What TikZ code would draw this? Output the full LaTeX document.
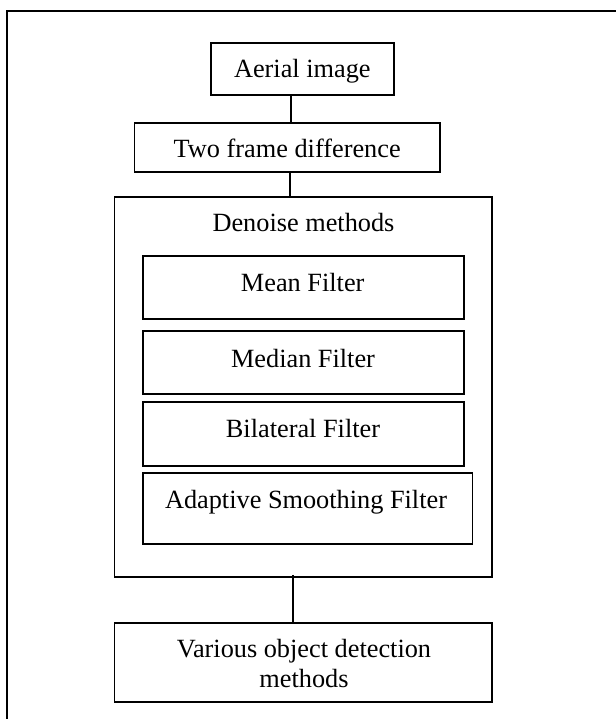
\documentclass[tikz,border=0pt]{standalone}
\usepackage{fontspec}
\setmainfont{Liberation Serif}
\begin{document}
\begin{tikzpicture}[x=1pt,y=1pt,
  box/.style={draw=black, line width=1.9pt, rectangle, inner sep=0pt},
  lbl/.style={inner sep=0pt, text height=17.3pt, text depth=0pt, font=\fontsize{26.3}{30}\selectfont},
  conn/.style={draw=black, line width=1.9pt}]
\useasboundingbox (0,0) rectangle (615,719);
% outer frame
\draw[line width=2pt] (7.3,-5) -- (7.3,708.3) -- (625,708.3);
% boxes
\node[box, minimum width=183pt, minimum height=52pt] (aerial) at (302.5,650) {};
\node[box, minimum width=305.5pt, minimum height=49pt] (two) at (287.25,571.5) {};
\node[box, minimum width=377.5pt, minimum height=380pt] (denoise) at (303.25,332) {};
\node[box, minimum width=321.3pt, minimum height=63pt] (mean) at (303.35,431.5) {};
\node[box, minimum width=321.3pt, minimum height=63pt] (median) at (303.35,356.5) {};
\node[box, minimum width=321.3pt, minimum height=64pt] (bilateral) at (303.35,285) {};
\node[box, minimum width=329.8pt, minimum height=71pt] (adaptive) at (307.6,210.5) {};
\node[box, minimum width=377.5pt, minimum height=79pt] (various) at (303.25,56.5) {};
% labels
\node[lbl] (taerial) at (302.3,650) {Aerial image};
\node[lbl] (ttwo) at (287.2,570) {Two frame difference};
\node[lbl] (tdenoise) at (303.5,496.4) {Denoise methods};
\node[lbl] (tmean) at (302.7,436) {Mean Filter};
\node[lbl] (tmedian) at (303,360.5) {Median Filter};
\node[lbl] (tbilateral) at (303,290) {Bilateral Filter};
\node[lbl] (tadaptive) at (306,219) {Adaptive Smoothing Filter};
\node[inner sep=0pt, align=center, font=\fontsize{26.3}{30}\selectfont] (tvarious) at (304,55.2) {Various object detection\\methods};
% connectors
\coordinate (c1) at (290.6,0);
\coordinate (c2) at (290,0);
\coordinate (c3) at (293,0);
\draw[conn] (aerial.south -| c1) -- (two.north -| c1);
\draw[conn] (two.south -| c2) -- (denoise.north -| c2);
\draw[conn] ([yshift=3pt]denoise.south -| c3) -- (various.north -| c3);
\end{tikzpicture}
\end{document}
